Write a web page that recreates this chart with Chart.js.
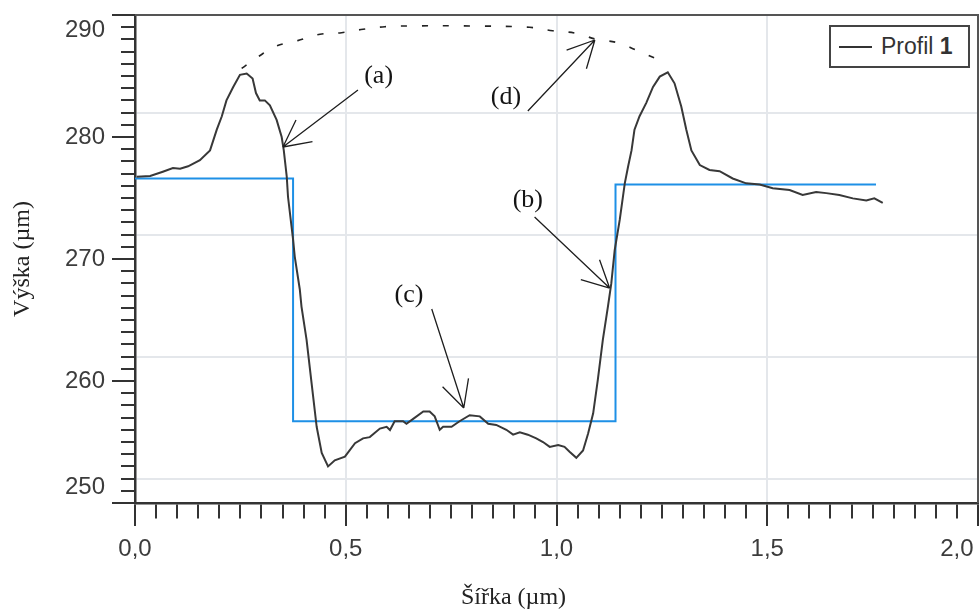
<!DOCTYPE html>
<html>
<head>
<meta charset="utf-8">
<script src="https://cdn.jsdelivr.net/npm/chart.js@4.4.1/dist/chart.umd.min.js"></script>
<style>
  html, body { margin: 0; padding: 0; background: #fff; overflow: hidden; }
  #wrap { position: relative; width: 1004px; height: 615px; }
  #legend {
    position: absolute; left: 829px; top: 25px; width: 141px; height: 43px;
    box-sizing: border-box; border: 2px solid #444; background: #fff;
    display: flex; align-items: center;
    font: 23px "Liberation Sans", Arial, sans-serif; color: #333;
  }
  #legend .swatch { width: 33px; height: 2px; background: #333; margin: 0 9px 0 8px; }
</style>
</head>
<body>
<div id="wrap">
  <canvas id="chart" width="1004" height="615"></canvas>
  <div id="legend"></div>
</div>
<script>
// -------------------------------
// Daten
// -------------------------------
const profileLabel = "Profil 1";

const profileX = [0.004, 0.036, 0.066, 0.09, 0.107, 0.126, 0.154, 0.178, 0.194, 0.206, 0.217, 0.233, 0.249, 0.265, 0.279, 0.287, 0.296, 0.308, 0.320, 0.336, 0.348, 0.353, 0.360, 0.363,
  0.375, 0.379, 0.391, 0.395, 0.407, 0.419, 0.431, 0.443, 0.458, 0.474, 0.498, 0.522, 0.541, 0.557, 0.581, 0.597, 0.605, 0.616, 0.636, 0.644, 0.660, 0.684, 0.699, 0.711, 0.723, 0.731,
  0.751, 0.770, 0.794, 0.818, 0.838, 0.857, 0.881, 0.897, 0.913, 0.932, 0.952, 0.968, 0.984, 1.004, 1.019, 1.031, 1.047, 1.063, 1.075, 1.087, 1.098, 1.110, 1.122, 1.130, 1.138,
  1.150, 1.162, 1.170, 1.178, 1.185, 1.197, 1.213, 1.229, 1.245, 1.264, 1.280, 1.296, 1.308, 1.320, 1.340, 1.363, 1.387, 1.418, 1.450, 1.482, 1.513, 1.553, 1.584, 1.616, 1.640,
  1.671, 1.703, 1.735, 1.754, 1.774];
const profileY = [276.75, 276.8, 277.15, 277.45, 277.4, 277.6, 278.1, 278.9, 280.6, 281.7, 283.0, 284.1, 285.1, 285.2, 284.8, 283.6, 283.0, 283.0, 282.6, 281.4, 280.0, 278.9, 276.75, 275.1,
  271.6, 270.2, 267.5, 266.1, 263.4, 259.8, 256.25, 254.1, 253.0, 253.5, 253.8, 254.9, 255.3, 255.4, 256.1, 256.25, 255.98, 256.7, 256.7, 256.5, 256.9, 257.5, 257.5, 257.1, 256.0, 256.25,
  256.25, 256.7, 257.2, 257.1, 256.5, 256.4, 256.0, 255.6, 255.8, 255.6, 255.3, 255.0, 254.6, 254.75, 254.6, 254.2, 253.7, 254.3, 255.7, 257.35, 260.1, 263.4, 266.1, 268.0, 270.7,
  273.2, 276.2, 277.6, 278.9, 280.6, 281.7, 282.8, 284.1, 284.95, 285.3, 284.4, 282.5, 280.6, 278.9, 277.7, 277.3, 277.2, 276.6, 276.2, 276.1, 275.8, 275.65, 275.25, 275.5, 275.4,
  275.25, 274.97, 274.8, 274.97, 274.6];

// Ideales Rechteckprofil (Stufen)
const stepX = [0, 0.375, 1.14, 1.758];
const stepY = [276.6, 256.7, 276.1, 276.1];

// gestrichelter Bogen (d)
const arcX = [0.253, 0.292, 0.336, 0.386, 0.439, 0.490, 0.541, 0.593, 0.644, 0.794, 0.936, 0.991, 1.047, 1.095, 1.145, 1.189, 1.237];
const arcY = [285.63, 286.58, 287.46, 287.9, 288.42, 288.55, 288.83, 289.04, 289.1, 289.1, 288.99, 288.71, 288.5, 288.0, 287.73, 287.13, 286.41];

// Beschriftungen (a)-(d) mit Pfeilen
const noteText = ["(a)", "(b)", "(c)", "(d)"];
const noteX = [0.578, 0.932, 0.650, 0.880];
const noteY = [285.0, 274.84, 267.05, 283.28];
const arrowFromX = [0.529, 0.948, 0.704, 0.932];
const arrowFromY = [283.85, 273.44, 265.9, 282.13];
const arrowToX = [0.351, 1.126, 0.780, 1.091];
const arrowToY = [279.18, 267.62, 257.79, 287.95];

// Achsen
const xMin = 0, xMax = 2;
const yMin = 250, yMax = 290;
const yGridAt = [252, 262, 272, 282];
const yLabelInset = 1.25; // Randbeschriftungen 250/290 sitzen nach innen versetzt
const xLabelInset = 0.05; // ebenso die letzte x-Beschriftung 2,0

const SANS = '"Liberation Sans", Arial, sans-serif';
const SERIF = '"Liberation Serif", "Times New Roman", serif';
const tickColor = "#3c3c3c";
const NONE = "rgba(0,0,0,0)";

const toPoints = (xs, ys) => xs.map((x, i) => ({ x, y: ys[i] }));
const near = (a, b) => Math.abs(a - b) < 1e-6;
const isHalf = v => near(v * 2, Math.round(v * 2));
const fmtX = v => v.toFixed(1).replace(".", ",");

function xTickText(v) {
  if (near(v, xMax - xLabelInset)) return fmtX(xMax);
  if (isHalf(v) && !near(v, xMax)) return fmtX(v);
  return "";
}

function yTickText(v) {
  if (v === yMin + yLabelInset) return String(yMin);
  if (v === yMax - yLabelInset) return String(yMax);
  if (v > yMin && v < yMax && v % 10 === 0) return String(v);
  return "";
}

// -------------------------------
// Plugin: Rahmen, Pfeile, x-Titel
// -------------------------------
const extras = {
  id: "extras",
  afterDatasetsDraw(chart) {
    const { ctx, chartArea: a, scales: { x, y } } = chart;
    ctx.save();

    // Rahmen oben und rechts
    ctx.strokeStyle = "#555";
    ctx.lineWidth = 2;
    ctx.beginPath();
    ctx.moveTo(a.left, a.top);
    ctx.lineTo(a.right, a.top);
    ctx.lineTo(a.right, a.bottom);
    ctx.stroke();

    // Pfeile
    ctx.strokeStyle = "#1e1e1e";
    ctx.lineWidth = 1.3;
    noteText.forEach((t, i) => {
      const x0 = x.getPixelForValue(arrowFromX[i]), y0 = y.getPixelForValue(arrowFromY[i]);
      const x1 = x.getPixelForValue(arrowToX[i]), y1 = y.getPixelForValue(arrowToY[i]);
      const ang = Math.atan2(y0 - y1, x0 - x1);
      const spread = 27 * Math.PI / 180, len = 30;
      ctx.beginPath();
      ctx.moveTo(x0, y0);
      ctx.lineTo(x1, y1);
      ctx.moveTo(x1, y1);
      ctx.lineTo(x1 + len * Math.cos(ang - spread), y1 + len * Math.sin(ang - spread));
      ctx.moveTo(x1, y1);
      ctx.lineTo(x1 + len * Math.cos(ang + spread), y1 + len * Math.sin(ang + spread));
      ctx.stroke();
    });

    // Texte
    ctx.fillStyle = "#141414";
    ctx.font = "26px " + SERIF;
    ctx.textAlign = "center";
    ctx.textBaseline = "middle";
    noteText.forEach((t, i) => {
      ctx.fillText(t, x.getPixelForValue(noteX[i]), y.getPixelForValue(noteY[i]));
    });

    // x-Achsentitel (im Original links von der Mitte)
    ctx.fillStyle = "#222";
    ctx.font = "24px " + SERIF;
    ctx.fillText("Šířka (µm)", (a.left + a.right) / 2 - 43, 598);

    ctx.restore();
  }
};

// -------------------------------
// Chart
// -------------------------------
const chart = new Chart(document.getElementById("chart"), {
  type: "line",
  data: {
    datasets: [
      {
        label: profileLabel,
        data: toPoints(profileX, profileY),
        borderColor: "#383838",
        borderWidth: 2,
        pointRadius: 0,
        tension: 0
      },
      {
        label: "Stufe",
        data: toPoints(stepX, stepY),
        borderColor: "#1e90e6",
        borderWidth: 2,
        pointRadius: 0,
        stepped: "before"
      },
      {
        label: "Bogen",
        data: toPoints(arcX, arcY),
        borderColor: "#222",
        borderWidth: 1.6,
        borderDash: [6, 15],
        pointRadius: 0,
        tension: 0.4
      }
    ]
  },
  options: {
    responsive: false,
    animation: false,
    layout: { padding: { top: 15, right: 26, bottom: 0, left: 0 } },
    plugins: {
      legend: { display: false },
      tooltip: { enabled: false }
    },
    scales: {
      x: {
        type: "linear",
        min: xMin,
        max: xMax,
        afterFit: s => { s.height = 112; },
        border: { color: "#333", width: 2.5 },
        grid: {
          color: c => (isHalf(c.tick.value) && c.tick.value > xMin && c.tick.value < xMax) ? "#e4e7eb" : NONE,
          lineWidth: 2,
          tickLength: 23,
          tickColor: "#333",
          tickWidth: 2,
          tickBorderDash: c => isHalf(c.tick.value) ? [] : [14, 40]
        },
        ticks: {
          stepSize: 0.05,
          autoSkip: false,
          maxTicksLimit: 1000,
          maxRotation: 0,
          padding: 9,
          font: { family: SANS, size: 24 },
          color: tickColor,
          callback: v => xTickText(v)
        }
      },
      y: {
        type: "linear",
        min: yMin,
        max: yMax,
        afterFit: s => { s.width = 135; },
        border: { color: "#333", width: 2.5 },
        grid: {
          color: c => yGridAt.includes(c.tick.value) ? "#e4e7eb" : NONE,
          lineWidth: 2,
          tickLength: 23,
          tickColor: c => Number.isInteger(c.tick.value) ? "#333" : NONE,
          tickWidth: 2,
          // Striche laufen hier von aussen nach innen: kurze Striche an der Achse
          tickBorderDash: c => c.tick.value % 10 === 0 ? [] : [0, 9, 14, 50]
        },
        ticks: {
          stepSize: 0.25,
          autoSkip: false,
          maxTicksLimit: 1000,
          padding: 7,
          font: { family: SANS, size: 24, lineHeight: 0.6 },
          color: tickColor,
          callback: v => yTickText(v)
        },
        title: {
          display: true,
          text: "Výška (µm)",
          font: { family: SERIF, size: 24 },
          color: "#222",
          padding: { top: 8, bottom: 0 }
        }
      }
    }
  },
  plugins: [extras]
});

// -------------------------------
// Legende (HTML, mit Rahmen)
// -------------------------------
const words = chart.data.datasets[0].label.split(" ");
const last = words.pop();
document.getElementById("legend").innerHTML =
  `<span class="swatch"></span><span>${words.join(" ")} <b>${last}</b></span>`;
</script>
</body>
</html>
